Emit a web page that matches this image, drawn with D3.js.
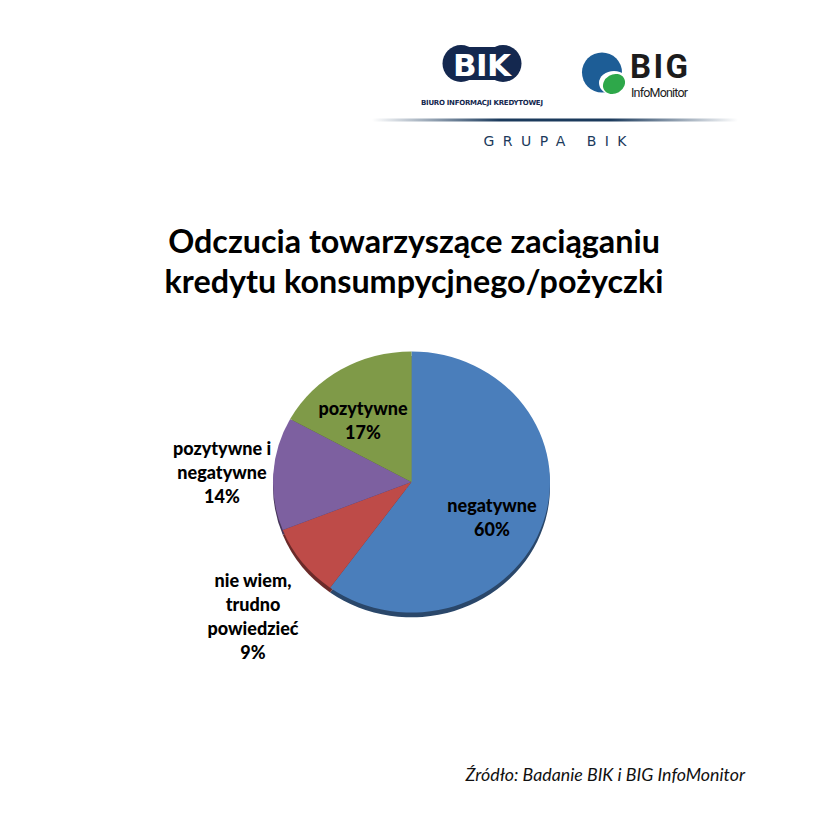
<!DOCTYPE html>
<html><head><meta charset="utf-8">
<script src="https://cdn.jsdelivr.net/npm/d3@7/dist/d3.min.js"></script>
<style>body{margin:0;background:#fff}svg{display:block}</style>
</head><body>
<script>
const categories = ["negatywne", "nie wiem, trudno powiedzieć", "pozytywne i negatywne", "pozytywne"];
const values = [60, 9, 14, 17];
const labelLines = [["negatywne", "60%"], ["nie wiem,", "trudno", "powiedzieć", "9%"], ["pozytywne i", "negatywne", "14%"], ["pozytywne", "17%"]];
const colors = ["#4a7ebb", "#be4b48", "#7d60a0", "#7f9a48"];
const titleLines = ["Odczucia towarzyszące zaciąganiu", "kredytu konsumpycjnego/pożyczki"];
const sourceText = "Źródło: Badanie BIK i BIG InfoMonitor";

const W = 831, H = 819;
const svg = d3.select("body").append("svg").attr("width", W).attr("height", H);
const FONT = "Lato, 'Open Sans', sans-serif";

// ---- header logos ----
const defs = svg.append("defs");
const lg = defs.append("linearGradient").attr("id", "hl").attr("x1", "0").attr("x2", "1");
lg.append("stop").attr("offset", "0").attr("stop-color", "#1b3a5c").attr("stop-opacity", 0);
lg.append("stop").attr("offset", "0.35").attr("stop-color", "#1b3a5c").attr("stop-opacity", 1);
lg.append("stop").attr("offset", "0.65").attr("stop-color", "#1b3a5c").attr("stop-opacity", 1);
lg.append("stop").attr("offset", "1").attr("stop-color", "#1b3a5c").attr("stop-opacity", 0);
svg.append("rect").attr("x", 372).attr("y", 118.5).attr("width", 366).attr("height", 3).attr("fill", "url(#hl)");

const bik = svg.append("g");
bik.append("circle").attr("cx", 461).attr("cy", 63.5).attr("r", 18.5).attr("fill", "#14284f");
bik.append("circle").attr("cx", 503).attr("cy", 63.5).attr("r", 18.5).attr("fill", "#14284f");
bik.append("rect").attr("x", 461).attr("y", 47).attr("width", 42).attr("height", 33).attr("fill", "#14284f");
bik.append("text").attr("x", 482).attr("y", 76).attr("text-anchor", "middle").attr("fill", "#fff")
  .attr("font-family", "'DejaVu Sans', sans-serif").attr("font-weight", "bold").attr("font-size", 31)
  .attr("textLength", 58).text("BIK");
bik.append("text").attr("x", 482).attr("y", 105).attr("text-anchor", "middle").attr("fill", "#14284f")
  .attr("font-family", "'DejaVu Sans', sans-serif").attr("font-weight", "bold").attr("font-size", 7).attr("textLength", 122)
  .text("BIURO INFORMACJI KREDYTOWEJ");

const big = svg.append("g");
big.append("circle").attr("cx", 602).attr("cy", 72.5).attr("r", 20).attr("fill", "#1d5d96");
big.append("ellipse").attr("cx", 614).attr("cy", 83).attr("rx", 15).attr("ry", 12).attr("fill", "#fff");
big.append("ellipse").attr("cx", 614).attr("cy", 84).attr("rx", 11.5).attr("ry", 9.5).attr("fill", "#2ea84a")
  .attr("transform", "rotate(-30,614,84)");
big.append("text").attr("x", 630).attr("y", 78).attr("fill", "#1c1c1c")
  .attr("font-family", "'Liberation Sans Narrow','Roboto', sans-serif").attr("font-weight", "bold").attr("font-size", 33)
  .attr("textLength", 58).text("BIG");
big.append("text").attr("x", 631).attr("y", 97).attr("fill", "#1c1c1c")
  .attr("font-family", "'Liberation Sans Narrow','Roboto', sans-serif").attr("font-size", 12.5)
  .attr("textLength", 57).text("InfoMonitor");

svg.append("text").attr("x", 560).attr("y", 146).attr("text-anchor", "middle").attr("fill", "#1b3a5c")
  .attr("font-family", "'DejaVu Sans', sans-serif").attr("font-size", 14).attr("letter-spacing", 10)
  .attr("textLength", 153).text("GRUPA BIK");

// ---- title ----
const title = svg.append("g").attr("font-family", FONT).attr("font-weight", "bold").attr("fill", "#000");
titleLines.forEach((t, i) => {
  title.append("text").attr("x", 414).attr("y", 253 + i * 40).attr("text-anchor", "middle")
    .attr("font-size", 29).text(t);
});
(function(){
  const n = title.select("text").node();
  const w = n.getComputedTextLength();
  const fs = 29 * 492 / w;
  title.selectAll("text").attr("font-size", fs);
})();

// ---- pie ----
const cx = 411.5, cy = 482, R = 138.5, sy = 0.943;
const pie = d3.pie().sort(null).value(d => d)(values);
const arc = d3.arc().innerRadius(0).outerRadius(R);
const pg = svg.append("g").attr("transform", `translate(${cx},${cy}) scale(1,${sy})`);
pg.append("g").attr("transform", "translate(0,5)").selectAll("path").data(pie).join("path")
  .attr("d", arc).attr("fill", (d, i) => d3.color(colors[i]).darker(1.6));
pg.append("g").selectAll("path").data(pie).join("path")
  .attr("d", arc).attr("fill", (d, i) => colors[i]);

// ---- labels ----
const labelPos = [[492, 505], [253, 580], [222, 448], [363, 408]];
const lab = svg.append("g").attr("font-family", FONT).attr("font-weight", 900).attr("font-size", 18).attr("fill", "#000");
labelLines.forEach((lines, i) => {
  const [x, y] = labelPos[i];
  const t = lab.append("text").attr("x", x).attr("y", y).attr("text-anchor", "middle").attr("dominant-baseline", "central");
  lines.forEach((l, j) => t.append("tspan").attr("x", x).attr("dy", j === 0 ? 0 : 24).text(l));
});

// ---- source ----
svg.append("text").attr("x", 745).attr("y", 781).attr("text-anchor", "end")
  .attr("font-family", FONT).attr("font-style", "italic").attr("font-size", 17.8).attr("fill", "#111").text(sourceText);
</script>
</body></html>
